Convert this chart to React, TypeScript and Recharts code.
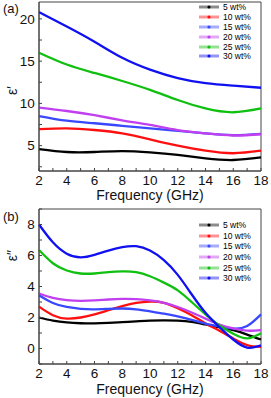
import { LineChart, Line, XAxis, YAxis, Legend, ReferenceArea } from 'recharts'

const SERIES = ['5 wt%', '10 wt%', '15 wt%', '20 wt%', '25 wt%', '30 wt%']
const COLORS = ['#000000', '#ff1010', '#3848ff', '#c040f0', '#10c010', '#1010f0']

// (a) real permittivity
const freqA = [2, 4, 6, 8, 10, 12, 14, 16, 18]
const realA = [
  [4.6, 4.25, 4.25, 4.35, 4.2, 3.9, 3.5, 3.3, 3.6],
  [6.95, 7.05, 6.85, 6.45, 5.75, 5.0, 4.4, 4.1, 4.4],
  [8.5, 7.95, 7.65, 7.35, 7.05, 6.75, 6.45, 6.25, 6.4],
  [9.5, 9.1, 8.6, 8.0, 7.45, 6.85, 6.45, 6.2, 6.35],
  [16.0, 14.6, 13.6, 12.65, 11.6, 10.4, 9.4, 8.95, 9.4],
  [20.8, 19.1, 17.3, 15.4, 14.0, 13.0, 12.4, 12.1, 11.85],
]

// (b) imaginary permittivity
const freqB = [2, 3, 4, 5, 6, 7, 8, 9, 10, 11, 12, 13, 14, 15, 16, 17, 18]
const imagB = [
  [2.0, 1.8, 1.68, 1.63, 1.62, 1.65, 1.7, 1.75, 1.8, 1.82, 1.8, 1.72, 1.55, 1.38, 1.18, 0.9, 0.58],
  [2.7, 2.15, 1.93, 2.0, 2.2, 2.47, 2.73, 2.94, 3.03, 2.95, 2.6, 2.15, 1.62, 1.15, 0.65, 0.22, 0.1],
  [3.44, 2.94, 2.68, 2.56, 2.53, 2.56, 2.58, 2.53, 2.4, 2.25, 2.07, 1.85, 1.6, 1.42, 1.28, 1.45, 2.2],
  [3.55, 3.27, 3.12, 3.07, 3.1, 3.16, 3.2, 3.18, 3.1, 2.95, 2.68, 2.32, 1.93, 1.55, 1.3, 1.15, 1.18],
  [6.35, 5.5, 5.03, 4.84, 4.84, 4.93, 4.98, 4.93, 4.66, 4.25, 3.75, 3.0, 2.2, 1.48, 0.95, 0.65, 0.98],
  [8.0, 6.85, 6.12, 5.88, 6.04, 6.32, 6.54, 6.6, 6.32, 5.7, 4.75, 3.5, 2.3, 1.38, 0.58, 0.06, 0.2],
]

const xTicks = [2, 3, 4, 5, 6, 7, 8, 9, 10, 11, 12, 13, 14, 15, 16, 17, 18]
const yTicksA = [2.5, 5, 7.5, 10, 12.5, 15, 17.5, 20]
const yTicksB = [-1, 0, 1, 2, 3, 4, 5, 6, 7, 8, 9]

const FONT = '"Liberation Sans", Arial, sans-serif'

const toRows = (freq: number[], vals: number[][]) =>
  freq.map((f, i) => {
    const row: any = { f }
    SERIES.forEach((s, k) => (row[s] = vals[k][i]))
    return row
  })

function LegendBox({ payload, rowH }: any) {
  const items = [...(payload ?? [])].sort((a: any, b: any) => SERIES.indexOf(a.value) - SERIES.indexOf(b.value))
  return (
    <div style={{ fontFamily: FONT, fontSize: 8.5, color: '#000' }}>
      {items.map((p: any) => (
        <div key={p.value} style={{ display: 'flex', alignItems: 'center', height: rowH }}>
          <svg width={22} height={8} style={{ marginRight: 3 }}>
            <line x1={1} y1={4} x2={21} y2={4} stroke={p.color} strokeOpacity={0.45} strokeWidth={3} />
            <circle cx={11} cy={4} r={1.6} fill={p.color} />
          </svg>
          <span>{p.value}</span>
        </div>
      ))}
    </div>
  )
}

interface PanelProps {
  rows: any[]
  height: number
  top: number
  yDomain: [number, number]
  yTicks: number[]
  major: number
  yLabel: string
  yLabelShift: number
  tag: string
  tagTop: number
  legendTop: number
  legendRow: number
  xLabelOffset: number
}

function Panel(p: PanelProps) {
  return (
    <div style={{ position: 'absolute', left: 0, top: p.top, width: 271, height: p.height }}>
      <div style={{ position: 'absolute', left: 3, top: p.tagTop, fontFamily: FONT, fontSize: 13, color: '#111' }}>
        {p.tag}
      </div>
      <LineChart width={271} height={p.height} data={p.rows} margin={{ top: p.top === 0 ? 2 : 4, right: 10, left: 0, bottom: 0 }}>
        <XAxis
          dataKey="f"
          type="number"
          domain={[2, 18]}
          ticks={xTicks}
          interval={0}
          tickFormatter={(v: number) => (v % 2 === 0 ? String(v) : '')}
          height={34}
          tickSize={-3}
          tickMargin={7.5}
          stroke="#444"
          tick={{ fontSize: 13.5, fill: '#111', fontFamily: FONT }}
          label={{ value: 'Frequency (GHz)', position: 'insideBottom', offset: p.xLabelOffset, style: { fontSize: 14, fill: '#111', fontFamily: FONT } }}
        />
        <YAxis
          type="number"
          domain={p.yDomain}
          ticks={p.yTicks}
          interval={0}
          allowDataOverflow
          tickFormatter={(v: number) => (v >= 0 && v % p.major === 0 ? String(v) : '')}
          width={39}
          tickSize={-3}
          tickMargin={7.3}
          stroke="#444"
          tick={{ fontSize: 13.5, fill: '#111', fontFamily: FONT }}
          label={{
            content: ({ viewBox }: any) => {
              const x = viewBox.x + 12
              const y = viewBox.y + viewBox.height / 2 + p.yLabelShift
              return (
                <text x={x} y={y} transform={`rotate(-90 ${x} ${y})`} textAnchor="middle" dominantBaseline="central" fontSize={14} fontFamily={FONT} fill="#111">
                  {p.yLabel}
                </text>
              )
            },
          }}
        />
        <ReferenceArea x1={2} x2={18} y1={p.yDomain[0]} y2={p.yDomain[1]} fill="none" stroke="#444" strokeWidth={1} />
        {SERIES.map((s, i) => (
          <Line
            key={s}
            dataKey={s}
            name={s}
            type="natural"
            stroke={COLORS[i]}
            strokeWidth={2.3}
            dot={false}
            isAnimationActive={false}
          />
        ))}
        <Legend
          layout="vertical"
          align="center"
          verticalAlign="middle"
          wrapperStyle={{ left: 198, top: p.legendTop, width: 70 }}
          content={(props: any) => <LegendBox {...props} rowH={p.legendRow} />}
        />
      </LineChart>
    </div>
  )
}

export default function App() {
  return (
    <div style={{ position: 'absolute', left: 0, top: 0, width: 271, height: 398, background: '#fff' }}>
      <Panel
        rows={toRows(freqA, realA)}
        height={205}
        top={0}
        yDomain={[2, 22]}
        yTicks={yTicksA}
        major={5}
        yLabel="ε′"
        yLabelShift={4}
        tag="(a)"
        tagTop={1}
        legendTop={2}
        legendRow={9.9}
        xLabelOffset={5}
      />
      <Panel
        rows={toRows(freqB, imagB)}
        height={193}
        top={205}
        yDomain={[-1, 9]}
        yTicks={yTicksB}
        major={2}
        yLabel="ε′′"
        yLabelShift={-31}
        tag="(b)"
        tagTop={4}
        legendTop={15}
        legendRow={10.6}
        xLabelOffset={4}
      />
    </div>
  )
}
